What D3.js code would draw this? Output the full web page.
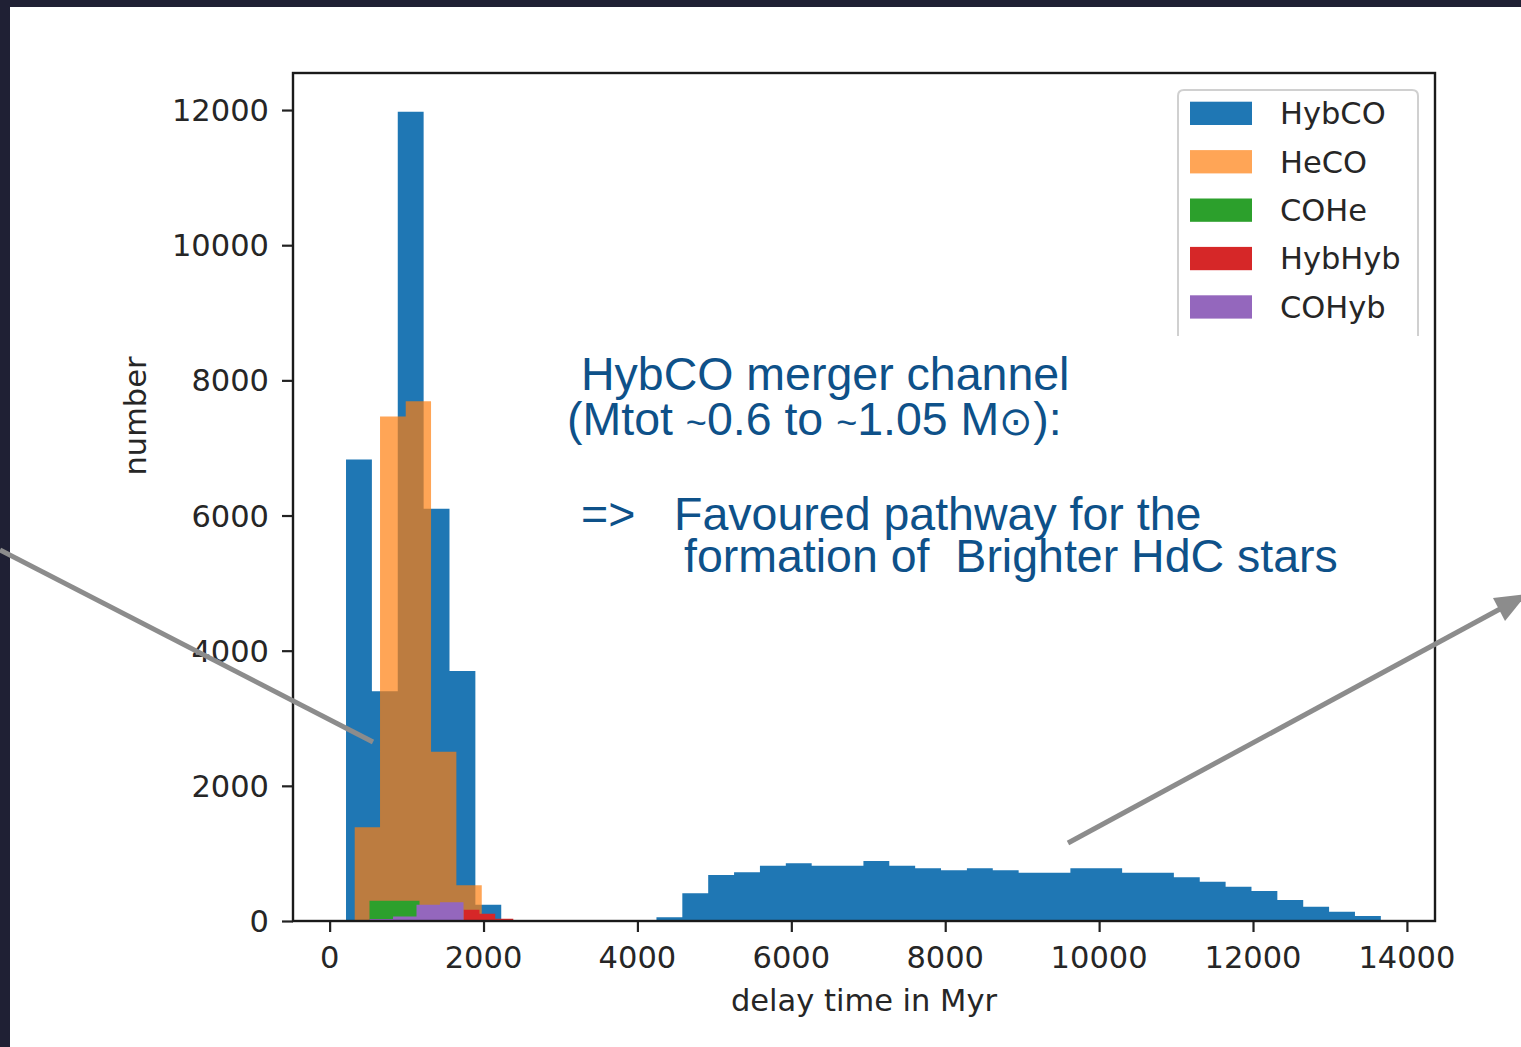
<!DOCTYPE html>
<html>
<head>
<meta charset="utf-8">
<script src="https://cdn.jsdelivr.net/npm/d3@7"></script>
<style>
  html, body { margin: 0; padding: 0; background: #1f2034; }
  svg { display: block; }
  .tick-label, .axis-title, .legend-label { font-family: "DejaVu Sans", sans-serif; fill: #262626; }
  .note { font-family: "Liberation Sans", Arial, sans-serif; fill: #0e5189; white-space: pre; }
</style>
</head>
<body>
<script>
// ---------------- data ----------------
// HybCO: 40 equal bins starting at 213 Myr, width 336.2 Myr
const hybcoStart = 213;
const hybcoBinWidth = 336.2;
const hybcoCounts = [6830, 3400, 11975, 6100, 3700, 240, 0, 0, 0, 0, 0, 0,
  54, 410, 681, 720, 819, 853, 819, 819, 888, 819, 780, 750, 780, 750,
  715, 715, 780, 780, 715, 715, 646, 582, 508, 444, 311, 212, 138, 74];

// other channels: explicit bin edges (Myr) and counts
const hecoEdges = [326, 655, 989, 1318, 1647, 1977];
const hecoCounts = [1389, 7464, 7690, 2506, 530];

const coheEdges = [518, 843, 1168];
const coheCounts = [300, 300];

const hybhybEdges = [1740, 1947, 2152, 2387];
const hybhybCounts = [167, 108, 34];

const cohybEdges = [518, 824, 1129, 1434, 1740];
const cohybCounts = [30, 68, 241, 277];

const seriesNames = ["HybCO", "HeCO", "COHe", "HybHyb", "COHyb"];
const seriesColors = ["#1f77b4", "#ff7f0e", "#2ca02c", "#d62728", "#9467bd"];
const seriesOpacity = [1, 0.7, 1, 1, 1];

const xTicks = [0, 2000, 4000, 6000, 8000, 10000, 12000, 14000];
const yTicks = [0, 2000, 4000, 6000, 8000, 10000, 12000];
const xTitle = "delay time in Myr";
const yTitle = "number";

// ---------------- layout ----------------
const W = 1521, H = 1047;
const plot = { left: 293, right: 1435, top: 73, bottom: 921 };

const svg = d3.select("body").append("svg").attr("width", W).attr("height", H);

// white panel on dark frame
svg.append("rect").attr("x", 10).attr("y", 7).attr("width", W - 10).attr("height", H - 7).attr("fill", "#ffffff");

const x = d3.scaleLinear().domain([-476, 14365]).range([plot.left, plot.right]);
const y = d3.scaleLinear().domain([0, 12548]).range([plot.bottom, plot.top]);

function binsFromEdges(edges, counts) {
  return counts.map((c, i) => ({ x0: edges[i], x1: edges[i + 1], v: c }));
}
const hybcoBins = hybcoCounts.map((c, i) => ({
  x0: hybcoStart + i * hybcoBinWidth, x1: hybcoStart + (i + 1) * hybcoBinWidth, v: c
}));

const allSeries = [
  hybcoBins,
  binsFromEdges(hecoEdges, hecoCounts),
  binsFromEdges(coheEdges, coheCounts),
  binsFromEdges(hybhybEdges, hybhybCounts),
  binsFromEdges(cohybEdges, cohybCounts)
];

// each histogram as one step-outline polygon (no seams between bins)
function histPath(bins) {
  const p = d3.path();
  p.moveTo(x(bins[0].x0), y(0));
  bins.forEach(d => {
    p.lineTo(x(d.x0), y(d.v));
    p.lineTo(x(d.x1), y(d.v));
  });
  p.lineTo(x(bins[bins.length - 1].x1), y(0));
  p.closePath();
  return p.toString();
}

const gBars = svg.append("g");
allSeries.forEach((bins, si) => {
  gBars.append("path")
    .attr("d", histPath(bins))
    .attr("fill", seriesColors[si])
    .attr("fill-opacity", seriesOpacity[si]);
});

// axes (ticks via d3 axis)
const xAxis = svg.append("g").attr("transform", `translate(0,${plot.bottom})`)
  .call(d3.axisBottom(x).tickValues(xTicks).tickSize(11).tickFormat(""));
const yAxis = svg.append("g").attr("transform", `translate(${plot.left},0)`)
  .call(d3.axisLeft(y).tickValues(yTicks).tickSize(11).tickFormat(""));
[xAxis, yAxis].forEach(a => {
  a.select(".domain").remove();
  a.selectAll(".tick line").attr("stroke", "#222").attr("stroke-width", 2.2);
});

// tick labels
svg.append("g").selectAll("text").data(xTicks).join("text")
  .attr("class", "tick-label")
  .attr("x", d => x(d)).attr("y", 968)
  .attr("text-anchor", "middle").attr("font-size", 30.5)
  .text(d => d);
svg.append("g").selectAll("text").data(yTicks).join("text")
  .attr("class", "tick-label")
  .attr("x", 269).attr("y", d => y(d) + 11)
  .attr("text-anchor", "end").attr("font-size", 30.5)
  .text(d => d);

// spines
svg.append("rect")
  .attr("x", plot.left).attr("y", plot.top)
  .attr("width", plot.right - plot.left).attr("height", plot.bottom - plot.top)
  .attr("fill", "none").attr("stroke", "#1a1a1a").attr("stroke-width", 2.4);

// axis titles
svg.append("text").attr("class", "axis-title")
  .attr("x", (plot.left + plot.right) / 2).attr("y", 1011)
  .attr("text-anchor", "middle").attr("font-size", 30.5)
  .text(xTitle);
svg.append("text").attr("class", "axis-title")
  .attr("transform", "translate(146,416) rotate(-90)")
  .attr("text-anchor", "middle").attr("font-size", 30.5)
  .text(yTitle);

// legend (bottom edge hidden in the reference)
const lg = svg.append("g");
lg.append("rect").attr("x", 1178).attr("y", 90).attr("width", 240).attr("height", 246)
  .attr("fill", "#ffffff").attr("fill-opacity", 0.85);
lg.append("path")
  .attr("d", "M1178,336 V96 Q1178,90 1184,90 H1412 Q1418,90 1418,96 V336")
  .attr("fill", "none").attr("stroke", "#d0d0d0").attr("stroke-width", 2);
seriesNames.forEach((name, i) => {
  const top = 101.7 + i * 48.4;
  lg.append("rect").attr("x", 1190).attr("y", top).attr("width", 62).attr("height", 23.3)
    .attr("fill", seriesColors[i]).attr("fill-opacity", seriesOpacity[i]);
  lg.append("text").attr("class", "legend-label")
    .attr("x", 1280).attr("y", top + 22.5).attr("font-size", 30.5).text(name);
});

// annotation text (two text blocks, each with two lines)
const note = svg.append("g").attr("font-size", 46.5);
const t1 = note.append("text").attr("class", "note");
t1.append("tspan").attr("x", 581).attr("y", 390).text("HybCO merger channel");
const l2 = t1.append("tspan").attr("x", 567).attr("y", 435);
l2.append("tspan").text("(Mtot ");
l2.append("tspan").attr("font-size", 36).text("~");
l2.append("tspan").text("0.6 to ");
l2.append("tspan").attr("font-size", 36).text("~");
l2.append("tspan").text("1.05 M");
l2.append("tspan").attr("font-size", 40).text("\u2299");
l2.append("tspan").text("):");

const t2 = note.append("text").attr("class", "note");
t2.append("tspan").attr("x", 581).attr("y", 530).text("=>   Favoured pathway for the");
t2.append("tspan").attr("x", 684).attr("y", 572).text("formation of  Brighter HdC stars");

// arrows
const arrowColor = "#8c8c8c";
svg.append("line").attr("x1", 0).attr("y1", 550).attr("x2", 373).attr("y2", 742)
  .attr("stroke", arrowColor).attr("stroke-width", 5);
svg.append("line").attr("x1", 1068).attr("y1", 843).attr("x2", 1500).attr("y2", 609)
  .attr("stroke", arrowColor).attr("stroke-width", 5);
svg.append("path").attr("d", "M1527,594 L1505,621 L1493,598 Z").attr("fill", arrowColor);
</script>
</body>
</html>
